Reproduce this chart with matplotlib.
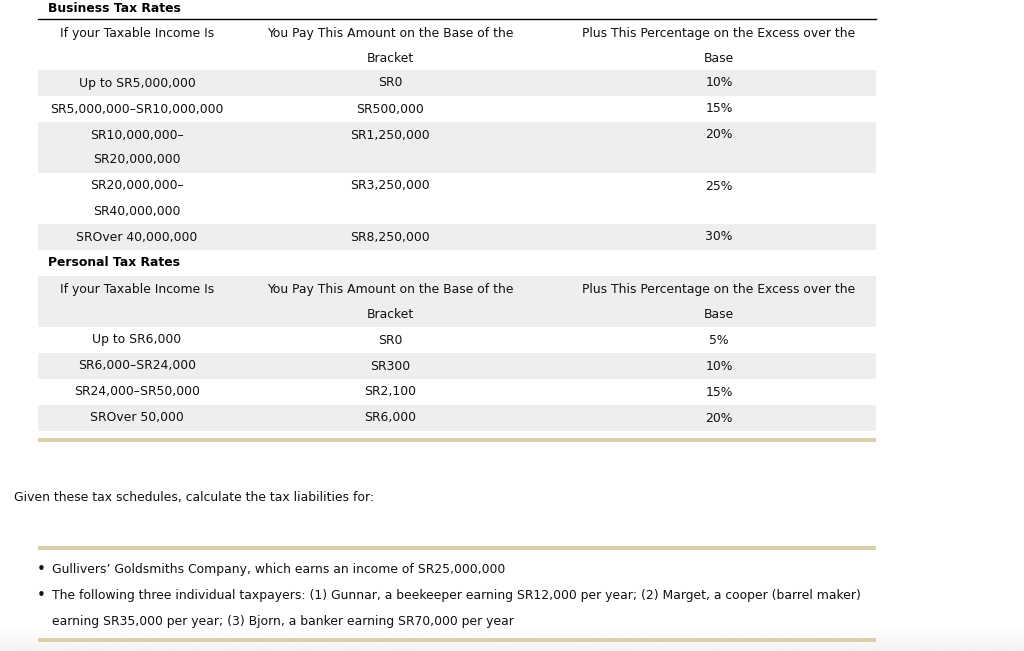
import matplotlib.pyplot as plt
import numpy as np
from matplotlib.patches import Rectangle

# table content
col_headers = [
    ["If your Taxable Income Is"],
    ["You Pay This Amount on the Base of the", "Bracket"],
    ["Plus This Percentage on the Excess over the", "Base"],
]
business_income = [["Up to SR5,000,000"], ["SR5,000,000\u2013SR10,000,000"],
                   ["SR10,000,000\u2013", "SR20,000,000"], ["SR20,000,000\u2013", "SR40,000,000"],
                   ["SROver 40,000,000"]]
business_base = ["SR0", "SR500,000", "SR1,250,000", "SR3,250,000", "SR8,250,000"]
business_pct = ["10%", "15%", "20%", "25%", "30%"]

personal_income = ["Up to SR6,000", "SR6,000\u2013SR24,000", "SR24,000\u2013SR50,000", "SROver 50,000"]
personal_base = ["SR0", "SR300", "SR2,100", "SR6,000"]
personal_pct = ["5%", "10%", "15%", "20%"]

question = "Given these tax schedules, calculate the tax liabilities for:"
bullets = [
    ["Gullivers\u2019 Goldsmiths Company, which earns an income of SR25,000,000"],
    ["The following three individual taxpayers: (1) Gunnar, a beekeeper earning SR12,000 per year; (2) Marget, a cooper (barrel maker)",
     "earning SR35,000 per year; (3) Bjorn, a banker earning SR70,000 per year"],
]

W, H = 1024, 651
fig = plt.figure(figsize=(W / 100, H / 100), dpi=100)
ax = fig.add_axes([0, 0, 1, 1])
ax.set_xlim(0, W)
ax.set_ylim(H, 0)
ax.axis("off")

FS = 8.9
SHADE = "#eeeeee"
TAN = "#d9d0a9"
LEFT, RIGHT = 38, 876
col_x = [137, 390, 719]
LINE_H = 25


def shade(y0, y1):
    ax.add_patch(Rectangle((LEFT, y0), RIGHT - LEFT, y1 - y0, color=SHADE, lw=0, zorder=0))


def cell(x, y, lines):
    for i, s in enumerate(lines):
        ax.text(x, y + i * LINE_H, s, ha="center", va="center", fontsize=FS, color="#111111")


# bottom gradient
grad = np.linspace(1.0, 0.95, 50).reshape(-1, 1)
ax.imshow(grad, cmap="gray", vmin=0, vmax=1, extent=(0, W, 651, 625), aspect="auto", zorder=-1)

# business table
ax.text(48, 8, "Business Tax Rates", ha="left", va="center", fontsize=FS, fontweight="bold")
ax.plot([LEFT, RIGHT], [19, 19], color="black", lw=1)
for x, lines in zip(col_x, col_headers):
    cell(x, 33, lines)

y = 70
for i, inc in enumerate(business_income):
    h = 26 if len(inc) == 1 else 51
    if i % 2 == 0:
        shade(y, y + h)
    cell(col_x[0], y + 13, inc)
    cell(col_x[1], y + 13, [business_base[i]])
    cell(col_x[2], y + 13, [business_pct[i]])
    y += h

# personal table
ax.text(48, 263, "Personal Tax Rates", ha="left", va="center", fontsize=FS, fontweight="bold")
shade(276, 327)
for x, lines in zip(col_x, col_headers):
    cell(x, 289, lines)

y = 327
for i, inc in enumerate(personal_income):
    if i % 2 == 1:
        shade(y, y + 26)
    cell(col_x[0], y + 13, [inc])
    cell(col_x[1], y + 13, [personal_base[i]])
    cell(col_x[2], y + 13, [personal_pct[i]])
    y += 26

ax.add_patch(Rectangle((LEFT, 438), RIGHT - LEFT, 4, color=TAN, lw=0))

# question
ax.text(14, 497, question, ha="left", va="center", fontsize=FS, color="#111111")
ax.add_patch(Rectangle((LEFT, 546), RIGHT - LEFT, 4, color=TAN, lw=0))
yb = 570
for item in bullets:
    ax.text(41, yb, "\u2022", ha="center", va="center", fontsize=FS + 2, color="#111111")
    for j, s in enumerate(item):
        ax.text(52, yb + j * 26, s, ha="left", va="center", fontsize=FS, color="#111111")
    yb += 26 * len(item)
ax.add_patch(Rectangle((LEFT, 638), RIGHT - LEFT, 4, color=TAN, lw=0))

fig.savefig("out.png", dpi=100)
